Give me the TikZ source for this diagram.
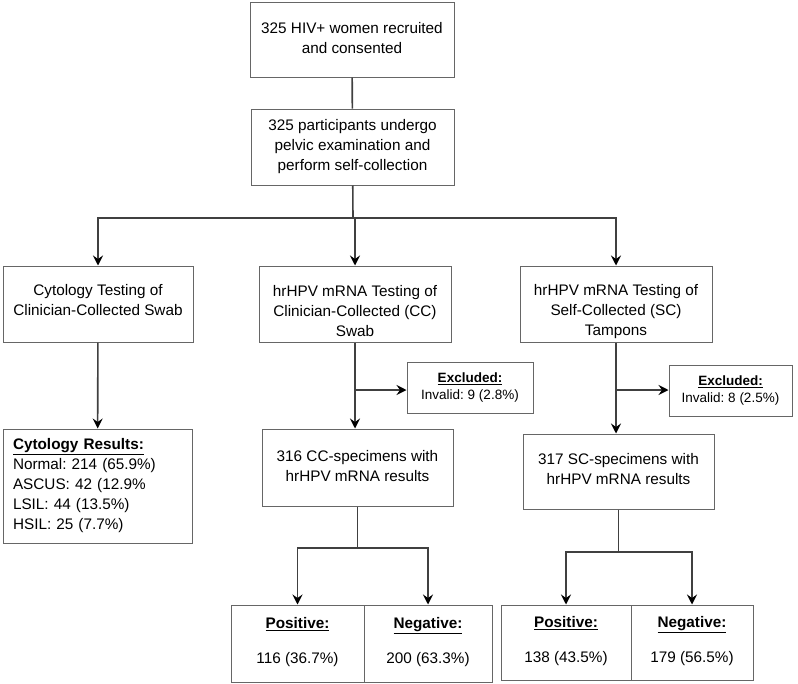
\documentclass[tikz,border=0pt]{standalone}
\usepackage{fontspec}
\setmainfont{Liberation Sans}
\usetikzlibrary{arrows.meta}
\frenchspacing

\begin{document}
\begin{tikzpicture}[x=1pt,y=-1pt]
\tikzstyle{every node}=[inner sep=0pt, align=center, font=\fontsize{15.3}{20}\selectfont\frenchspacing]
\tikzstyle{box}=[draw=black!60, line width=1pt, rectangle]
\tikzstyle{small}=[font=\fontsize{13.5}{17}\selectfont\frenchspacing]
\tikzstyle{link}=[draw=black!75, line width=1.6pt]
\tikzstyle{arr}=[link, -{Stealth[length=10pt,width=10pt,inset=3.5pt,color=black]}]
\useasboundingbox (0,0) rectangle (798,683);
\draw (352,39.5) node (top) [box, minimum width=204pt, minimum height=75pt] {325 HIV+ women recruited\\and consented\\[-16pt]};
\draw (352.5,147) node (exam) [box, minimum width=203pt, minimum height=76pt] {325 participants undergo\\pelvic examination and\\perform self-collection};
\draw (98,304) node (cyto) [box, minimum width=190pt, minimum height=76pt] {Cytology Testing of\\Clinician-Collected Swab\\[-12pt]};
\draw (355,304) node (cc) [box, minimum width=192pt, minimum height=76pt] {\rule{0pt}{26pt}hrHPV mRNA Testing of\\Clinician-Collected (CC)\\Swab};
\draw (616,304) node (sc) [box, minimum width=192pt, minimum height=76pt] {\rule{0pt}{26pt}hrHPV mRNA Testing of\\Self-Collected (SC)\\Tampons};
\draw (97.5,486) node (cytores) [box, inner xsep=10pt, text width=169pt, align=left, minimum height=114pt] {\underline{\textbf{Cytology Results:}}\\Normal: 214 (65.9\%)\\ASCUS: 42 (12.9\%\\LSIL: 44 (13.5\%)\\HSIL: 25 (7.7\%)};
\draw (470,387.5) node (ccex) [box, small, minimum width=126pt, minimum height=51pt] {\underline{\textbf{Excluded:}}\\Invalid: 9 (2.8\%)};
\draw (730.5,390.5) node (scex) [box, small, minimum width=123pt, minimum height=51pt] {\underline{\textbf{Excluded:}}\\Invalid: 8 (2.5\%)};
\draw (357.5,467.5) node (ccres) [box, minimum width=191pt, minimum height=77pt] {316 CC-specimens with\\hrHPV mRNA results\\[-16pt]};
\draw (618.5,471.5) node (scres) [box, minimum width=191pt, minimum height=75pt] {317 SC-specimens with\\hrHPV mRNA results\\[-14pt]};
\draw (297.5,643.5) node (ccpos) [box, minimum width=133pt, minimum height=77pt] {\underline{\textbf{Positive:}}\\[15pt]116 (36.7\%)\\[-14pt]};
\draw (428,643.5) node (ccneg) [box, minimum width=128pt, minimum height=77pt] {\underline{\textbf{Negative:}}\\[15pt]200 (63.3\%)\\[-14pt]};
\draw (566,642.5) node (scpos) [box, minimum width=130pt, minimum height=75pt] {\underline{\textbf{Positive:}}\\[15pt]138 (43.5\%)\\[-14pt]};
\draw (692,642.5) node (scneg) [box, minimum width=122pt, minimum height=75pt] {\underline{\textbf{Negative:}}\\[15pt]179 (56.5\%)\\[-14pt]};
\coordinate (split) at (353,218);
\coordinate (ccx) at (355,390);
\coordinate (scx) at (616,390);
\coordinate (ccsplit) at (357.5,548);
\coordinate (scsplit) at (618.5,552);
\draw [link] (top) -- (exam);
\draw [link] (exam) -- (split);
\draw [arr] (split) -| (cyto);
\draw [arr] (split) -| (cc);
\draw [arr] (split) -| (sc);
\draw [arr] (cyto) -- (cytores);
\draw [arr] (cc) -- (cc |- ccres.north);
\draw [arr] (ccx) -- (ccx -| ccex.west);
\draw [arr] (sc) -- (sc |- scres.north);
\draw [arr] (scx) -- (scx -| scex.west);
\draw [link] (ccres) -- (ccsplit);
\draw [arr] (ccsplit) -| (ccpos);
\draw [arr] (ccsplit) -| (ccneg);
\draw [link] (scres) -- (scsplit);
\draw [arr] (scsplit) -| (scpos);
\draw [arr] (scsplit) -| (scneg);
\end{tikzpicture}
\end{document}
